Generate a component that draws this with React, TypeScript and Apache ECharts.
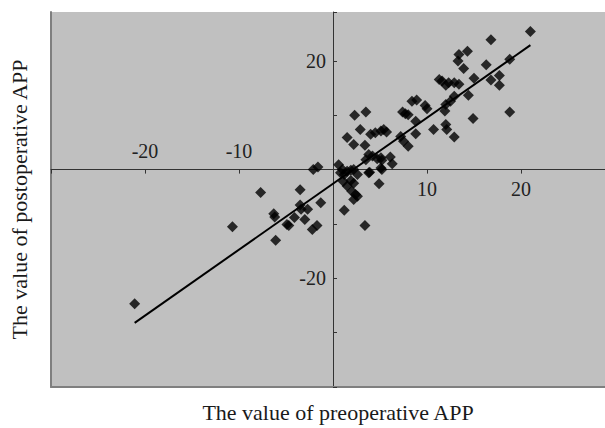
import React, { useEffect, useRef } from "react";
import * as echarts from "echarts";

// Preoperative APP (x) and postoperative APP (y)
const preValues: number[] = [
  21.0, 16.8, 14.3, 13.4, 13.3, 13.9, 18.8, 16.3, 15.0, 16.8, 17.7, 17.7,
  11.3, 11.6, 12.0, 12.3, 12.9, 13.4, 14.4, 12.9, 12.5, 12.0, 11.9, 18.8, 14.9, 12.0, 12.1, 10.7, 12.9,
  8.4, 8.9, 9.8, 10.0, 7.4, 7.7, 8.0, 8.8, 8.8, 7.2, 7.5, 8.0,
  2.3, 3.5, 1.5, 2.9, 2.2, 3.4, 4.0, 4.5, 5.1, 5.4, 5.7, 3.8, 4.2, 4.7, 5.1, 5.2, 3.5, 6.1, 6.3, 5.1, 5.2, 3.9, 4.9,
  0.6, 1.0, 0.8, 1.2, 1.5, 1.9, 2.2, 2.6, 1.1, 1.5, 2.2, 1.9, 2.0, 2.4, 2.6, 2.2, 1.2, 3.4, 3.8,
  -21.1, -10.7, -7.7, -3.5, -6.3, -6.2, -6.1, -4.9, -4.7, -4.1, -3.5, -3.4, -2.7, -3.0, -2.2, -1.7, -1.3, -2.1, -1.6,
];
const postValues: number[] = [
  25.4, 23.9, 21.8, 21.2, 20.0, 18.6, 20.3, 19.3, 16.8, 16.5, 17.3, 15.5,
  16.6, 16.3, 15.5, 16.0, 16.0, 15.7, 13.7, 13.5, 12.6, 12.0, 10.8, 10.6, 9.4, 8.3, 7.4, 7.4, 6.0,
  12.6, 12.8, 11.8, 11.2, 10.6, 10.3, 10.1, 8.9, 6.6, 6.1, 5.2, 4.3,
  10.0, 10.6, 5.9, 7.4, 4.6, 4.5, 6.5, 6.8, 7.1, 7.4, 6.9, 2.8, 2.5, 2.0, 2.2, 1.7, 1.8, 2.3, 1.1, 0.3, 0.0, -0.5, -2.6,
  0.9, 0.0, -0.6, -0.9, -0.3, -0.1, 0.0, -0.9, -2.2, -3.0, -2.5, -2.0, -4.0, -4.6, -4.9, -5.5, -7.5, -10.3, -0.6,
  -24.7, -10.5, -4.2, -3.7, -8.1, -8.7, -13.0, -10.1, -10.3, -8.8, -6.5, -7.3, -7.3, -9.2, -11.0, -10.3, -6.1, 0.0, 0.5,
];

// Regression line end points
const fitX: number[] = [-21.1, 21.0];
const fitY: number[] = [-28.2, 22.9];

const xRange: number[] = [-30, 30];
const yRange: number[] = [-40, 29];
const xLabelsBelow: number[] = [10, 20];
const xLabelsAbove: number[] = [-20, -10];
const yLabels: number[] = [20, -20];

const xTitle = "The value of preoperative APP";
const yTitle = "The value of postoperative APP";

const FONT = "'Liberation Serif', 'Times New Roman', serif";

const GRID_LEFT = 51;
const GRID_TOP = 12;
const GRID_W = 564;
const GRID_H = 375;

export default function App() {
  const ref = useRef<HTMLDivElement>(null);

  useEffect(() => {
    if (!ref.current) return;
    const chart = echarts.init(ref.current, undefined, { renderer: "svg" });
    const scatterData = preValues.map((x, i) => [x, postValues[i]]);
    const fitData = fitX.map((x, i) => [x, fitY[i]]);

    // distance of the zero lines from the grid edges (axes crossing at the origin)
    const zeroFromLeft = ((0 - xRange[0]) / (xRange[1] - xRange[0])) * GRID_W;
    const zeroFromTop = ((yRange[1] - 0) / (yRange[1] - yRange[0])) * GRID_H;
    const zeroFromBottom = GRID_H - zeroFromTop;

    const tickLabelStyle = { fontFamily: FONT, fontSize: 20, color: "#222" };

    chart.setOption({
      animation: false,
      backgroundColor: "#ffffff",
      grid: {
        left: GRID_LEFT,
        top: GRID_TOP,
        width: GRID_W,
        height: GRID_H,
        show: true,
        backgroundColor: "#c0c0c0",
        borderWidth: 0,
        containLabel: false,
        outerBoundsMode: "none",
      },
      xAxis: [
        {
          type: "value",
          min: xRange[0],
          max: xRange[1],
          interval: 10,
          position: "bottom",
          offset: -zeroFromBottom,
          axisLine: { show: true, onZero: false, lineStyle: { color: "#333", width: 1 } },
          axisTick: { show: true, length: 4, lineStyle: { color: "#333" } },
          axisLabel: {
            ...tickLabelStyle,
            margin: 9,
            formatter: (v: number) => (xLabelsBelow.includes(v) ? String(v) : ""),
          },
          splitLine: { show: false },
        },
        {
          type: "value",
          min: xRange[0],
          max: xRange[1],
          interval: 10,
          position: "top",
          offset: -zeroFromTop,
          axisLine: { show: false, onZero: false },
          axisTick: { show: false },
          axisLabel: {
            ...tickLabelStyle,
            margin: 9,
            formatter: (v: number) => (xLabelsAbove.includes(v) ? String(v) : ""),
          },
          splitLine: { show: false },
        },
        {
          type: "value",
          min: xRange[0],
          max: xRange[1],
          position: "bottom",
          axisLine: { show: true, onZero: false, lineStyle: { color: "#7f7f7f", width: 2 } },
          axisTick: { show: false },
          axisLabel: { show: false },
          splitLine: { show: false },
          name: xTitle,
          nameLocation: "middle",
          nameGap: 14,
          nameMoveOverlap: false,
          nameTextStyle: {
            fontFamily: FONT,
            fontSize: 22,
            color: "#1a1a1a",
            verticalAlign: "top",
            padding: [0, 0, 0, 10],
          },
        },
      ],
      yAxis: [
        {
          type: "value",
          min: yRange[0],
          max: yRange[1],
          interval: 10,
          position: "left",
          offset: -zeroFromLeft,
          axisLine: { show: true, onZero: false, lineStyle: { color: "#333", width: 1 } },
          axisTick: { show: true, inside: true, length: 4, lineStyle: { color: "#333" } },
          axisLabel: {
            ...tickLabelStyle,
            margin: 7,
            formatter: (v: number) => (yLabels.includes(v) ? String(v) : ""),
          },
          splitLine: { show: false },
        },
        {
          type: "value",
          min: yRange[0],
          max: yRange[1],
          position: "left",
          axisLine: { show: true, onZero: false, lineStyle: { color: "#7f7f7f", width: 2 } },
          axisTick: { show: false },
          axisLabel: { show: false },
          splitLine: { show: false },
          name: yTitle,
          nameLocation: "middle",
          nameGap: 21,
          nameRotate: 90,
          nameMoveOverlap: false,
          nameTextStyle: { fontFamily: FONT, fontSize: 22, color: "#1a1a1a" },
        },
      ],
      series: [
        {
          type: "scatter",
          xAxisIndex: 0,
          yAxisIndex: 0,
          symbol: "diamond",
          symbolSize: 11,
          itemStyle: { color: "#000000" },
          data: scatterData,
          z: 3,
        },
        {
          type: "line",
          xAxisIndex: 0,
          yAxisIndex: 0,
          symbol: "none",
          lineStyle: { color: "#000000", width: 2 },
          data: fitData,
          z: 4,
        },
      ],
    });
    return () => chart.dispose();
  }, []);

  return (
    <div
      ref={ref}
      style={{ position: "absolute", left: 0, top: 0, width: 605, height: 428 }}
    />
  );
}
